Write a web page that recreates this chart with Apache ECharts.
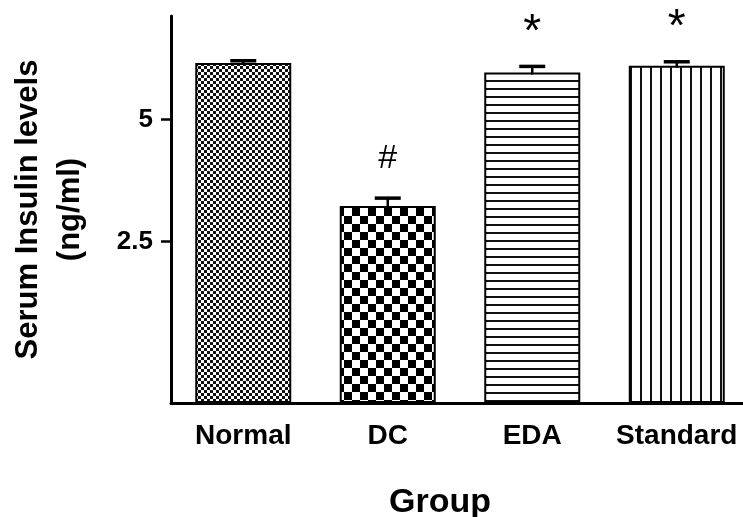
<!DOCTYPE html>
<html>
<head>
<meta charset="utf-8">
<script src="https://cdn.jsdelivr.net/npm/echarts@6/dist/echarts.min.js"></script>
<style>html,body{margin:0;padding:0;background:#fff}#c{width:743px;height:517px}</style>
</head>
<body>
<div id="c"></div>
<script>
const categories = ['Normal', 'DC', 'EDA', 'Standard'];
const means = [6.89, 3.06, 6.53, 6.79];
const errors = [0.09, 0.14, 0.23, 0.15];
const marks = ['', '#', '*', '*'];
const yTicks = [2.5, 5];
const yMin = 1, yMax = 9;

function makePattern(kind) {
  const c = document.createElement('canvas');
  let ctx;
  if (kind === 'fine') {
    c.width = 6; c.height = 6; ctx = c.getContext('2d');
    ctx.fillStyle = '#fff'; ctx.fillRect(0, 0, 6, 6);
    ctx.fillStyle = '#111'; ctx.fillRect(0, 0, 3, 3); ctx.fillRect(3, 3, 3, 3);
  } else if (kind === 'coarse') {
    c.width = 16; c.height = 16; ctx = c.getContext('2d');
    ctx.fillStyle = '#fff'; ctx.fillRect(0, 0, 16, 16);
    ctx.fillStyle = '#000'; ctx.fillRect(0, 0, 8, 8); ctx.fillRect(8, 8, 8, 8);
  } else if (kind === 'hlines') {
    c.width = 8; c.height = 8; ctx = c.getContext('2d');
    ctx.fillStyle = '#fff'; ctx.fillRect(0, 0, 8, 8);
    ctx.fillStyle = '#111'; ctx.fillRect(0, 0, 8, 2);
  } else {
    c.width = 10; c.height = 10; ctx = c.getContext('2d');
    ctx.fillStyle = '#fff'; ctx.fillRect(0, 0, 10, 10);
    ctx.fillStyle = '#111'; ctx.fillRect(0, 0, 2, 10);
  }
  return { image: c, repeat: 'repeat' };
}
const patterns = [makePattern('fine'), makePattern('coarse'), makePattern('hlines'), makePattern('vlines')];

const chart = echarts.init(document.getElementById('c'), null, { renderer: 'canvas' });
const FONT = 'Liberation Sans, Arial, sans-serif';
const bold = { fontFamily: FONT, fontWeight: 'bold', color: '#000' };

chart.setOption({
  animation: false,
  backgroundColor: '#fff',
  grid: { left: 171, top: 16, bottom: 114, width: 578, outerBoundsMode: 'none', containLabel: false },
  xAxis: {
    type: 'category',
    data: categories,
    axisLine: { lineStyle: { color: '#000', width: 3 } },
    axisTick: { show: false },
    axisLabel: Object.assign({ fontSize: 28, margin: 19, interval: 0 }, bold),
    name: 'Group',
    nameLocation: 'middle',
    nameGap: 83,
    nameTextStyle: Object.assign({ fontSize: 34, padding: [0, 40, 0, 0] }, bold)
  },
  yAxis: {
    type: 'log',
    logBase: 2,
    min: yMin,
    max: yMax,
    axisLine: { show: true, lineStyle: { color: '#000', width: 3 } },
    axisTick: { show: true, customValues: yTicks, length: 10, lineStyle: { color: '#000', width: 2.5 } },
    axisLabel: Object.assign({ customValues: yTicks, fontSize: 26, margin: 18, formatter: v => String(v) }, bold),
    splitLine: { show: false },
    name: 'Serum Insulin levels\n(ng/ml)',
    nameLocation: 'middle',
    nameGap: 80,
    nameTextStyle: Object.assign({ fontSize: 31, lineHeight: 42 }, bold)
  },
  series: [
    {
      type: 'bar',
      barWidth: 96,
      data: means.map((v, i) => ({
        value: v,
        itemStyle: { color: patterns[i], borderColor: '#000', borderWidth: 2 }
      }))
    },
    {
      type: 'custom',
      data: means.map((v, i) => [i, v, errors[i]]),
      renderItem: function (params, api) {
        const i = api.value(0), m = api.value(1), e = api.value(2);
        const base = api.coord([i, m]);
        const top = api.coord([i, m + e]);
        const hw = 13;
        const mk = marks[params.dataIndex];
        const isStar = mk === '*';
        return {
          type: 'group',
          children: [
            { type: 'line', shape: { x1: top[0], y1: top[1], x2: base[0], y2: base[1] + 2 }, style: { stroke: '#000', lineWidth: 2.5 } },
            { type: 'line', shape: { x1: top[0] - hw, y1: top[1], x2: top[0] + hw, y2: top[1] }, style: { stroke: '#000', lineWidth: 3.5 } },
            { type: 'text', x: top[0], y: top[1] - (isStar ? 33 : 40), style: { text: mk, fontSize: isStar ? 46 : 34, fontFamily: FONT, fill: '#000', align: 'center', verticalAlign: 'middle' } }
          ]
        };
      },
      z: 5
    }
  ]
});
</script>
</body>
</html>
